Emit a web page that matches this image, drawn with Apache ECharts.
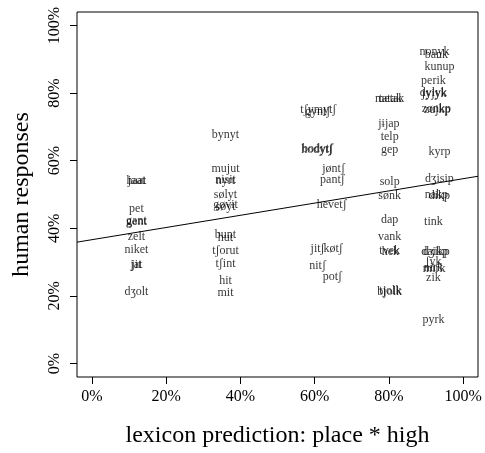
<!DOCTYPE html>
<html>
<head>
<meta charset="utf-8">
<script src="https://cdn.jsdelivr.net/npm/echarts@6/dist/echarts.min.js"></script>
<style>
  html, body { margin: 0; padding: 0; background: #fff; }
  #chart { width: 485px; height: 453px; }
</style>
</head>
<body>
<div id="chart"></div>
<script>
// words and where they sit: lexicon prediction (x) vs human responses (y), in percent
const words = [
  'haat', 'jaat', 'pet', 'gant', 'gent', 'zelt', 'niket', 'jat', 'jit', 'dʒolt',
  'bynyt', 'mujut', 'nisit', 'nyrt', 'sølyt', 'gøvit', 'søyt', 'bunt', 'hut', 'tʃorut', 'tʃint', 'hit', 'mit',
  'tʃymytʃ', 'gyntʃ', 'bodytʃ', 'hodytʃ', 'jøntʃ', 'pantʃ', 'hevetʃ', 'jitʃ', 'køtʃ', 'nitʃ', 'potʃ',
  'metak', 'tatak', 'jɨjap', 'telp', 'gep', 'solp', 'sønk', 'dap', 'vank', 'tvek', 'hek', 'tjolk', 'bjolk',
  'nonyk', 'bank', 'kunup', 'perik', 'dylyk', 'jyjyk', 'zønkp', 'zujkp', 'kyrp', 'dʒisip', 'nakp', 'dikp',
  'tink', 'daikp', 'dʒikp', 'ʃyk', 'nirk', 'mirk', 'zik', 'pyrk'
]
const predX = [
  12.0, 12.0, 12.0, 12.0, 12.0, 12.0, 12.0, 12.0, 12.0, 12.0,
  36.0, 36.0, 36.0, 36.0, 36.0, 36.0, 36.0, 36.0, 36.0, 36.0, 36.0, 36.0, 36.0,
  61.0, 60.8, 60.8, 60.6, 65.1, 64.8, 64.6, 60.8, 65.0, 60.8, 64.8,
  80.2, 80.4, 80.0, 80.2, 80.2, 80.2, 80.2, 80.2, 80.2, 80.2, 80.4, 80.4, 80.2,
  92.3, 92.8, 93.6, 92.0, 92.0, 92.2, 92.8, 93.0, 93.6, 93.6, 92.8, 93.6,
  92.0, 92.3, 92.8, 92.0, 92.0, 92.2, 92.0, 92.0
]
const respY = [
  54.0, 54.0, 45.8, 42.2, 41.8, 37.6, 33.6, 29.3, 29.2, 21.2,
  67.7, 57.7, 54.3, 53.9, 49.8, 46.9, 46.3, 38.2, 37.1, 33.4, 29.5, 24.4, 20.9,
  75.0, 74.6, 63.5, 63.2, 57.7, 54.2, 46.9, 33.8, 33.8, 28.9, 25.7,
  78.2, 78.2, 70.9, 67.0, 63.2, 53.6, 49.7, 42.5, 37.4, 33.2, 32.9, 21.5, 21.2,
  92.3, 91.4, 87.7, 83.5, 80.1, 79.8, 75.3, 75.0, 62.7, 54.5, 49.9, 49.6,
  41.8, 33.0, 33.0, 30.0, 28.2, 28.0, 25.4, 13.0
]
// fitted line ends
const fitX = [-4, 104]
const fitY = [35.9, 55.4]
const tickVals = [0, 20, 40, 60, 80, 100]

const serif = '"Liberation Serif", "DejaVu Serif", serif'

const chart = echarts.init(document.getElementById('chart'))

const axisCommon = {
  type: 'value',
  min: -4,
  max: 104,
  splitLine: { show: false },
  axisLine: { show: false, onZero: false },
  axisTick: {
    show: true,
    inside: false,
    customValues: tickVals,
    length: 7,
    lineStyle: { color: '#000', width: 1 }
  },
  nameLocation: 'middle',
  nameTextStyle: { fontFamily: serif, fontSize: 24, color: '#000' }
}

chart.setOption({
  animation: false,
  grid: {
    left: 77,
    right: 7,
    top: 12,
    bottom: 72,
    show: true,
    borderColor: '#000',
    borderWidth: 1,
    backgroundColor: '#fff'
  },
  xAxis: Object.assign({}, axisCommon, {
    name: 'lexicon prediction: place * high',
    nameGap: 47,
    axisLabel: {
      customValues: tickVals,
      formatter: v => v + '%',
      margin: 12,
      fontFamily: serif,
      fontSize: 16,
      color: '#000'
    }
  }),
  yAxis: Object.assign({}, axisCommon, {
    name: 'human responses',
    nameGap: 43,
    nameRotate: 90,
    axisLabel: {
      customValues: tickVals,
      formatter: v => v + '%',
      rotate: 90,
      margin: 14,
      fontFamily: serif,
      fontSize: 16,
      color: '#000'
    }
  }),
  series: [
    {
      type: 'line',
      data: fitX.map((x, i) => [x, fitY[i]]),
      symbol: 'none',
      lineStyle: { color: '#000', width: 1 },
      silent: true
    },
    {
      type: 'scatter',
      symbol: 'circle',
      symbolSize: 1,
      itemStyle: { color: 'rgba(0,0,0,0)' },
      data: words.map((w, i) => ({ name: w, value: [predX[i], respY[i]] })),
      label: {
        show: true,
        position: 'inside',
        offset: [0, 2],
        formatter: p => p.name,
        fontFamily: serif,
        fontSize: 12,
        color: '#000'
      },
      labelLayout: { hideOverlap: false }
    }
  ]
})
</script>
</body>
</html>
